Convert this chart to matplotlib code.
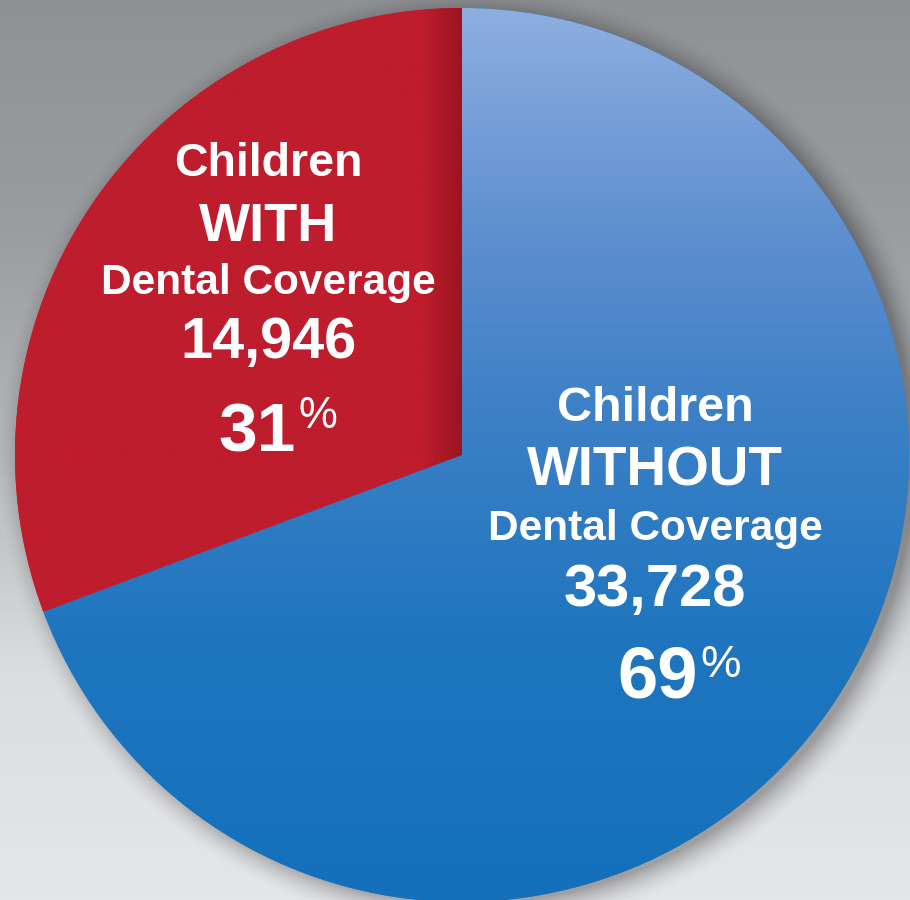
import numpy as np
import matplotlib.pyplot as plt
from matplotlib.colors import LinearSegmentedColormap

# Dental coverage among children
groups = ['WITH', 'WITHOUT']
counts = [14946, 33728]
base_colors = ['#be1d2d', '#2378c0']

total = sum(counts)
percents = [round(100 * c / total) for c in counts]

cx, cy, r = 462, 445, 447

fig = plt.figure(figsize=(9.1, 9.0), dpi=100)
ax = fig.add_axes([0, 0, 1, 1])

# grey backdrop, darker at the top
bg = LinearSegmentedColormap.from_list('bg', ['#e5e6e8', '#dcdde0', '#b4b6b9', '#9a9c9f', '#8f9195'])
ax.imshow(np.linspace(0, 1, 256).reshape(-1, 1), cmap=bg, extent=[0, 910, 0, 900],
          origin='lower', aspect='auto', zorder=0)

# soft drop shadow, pushed a little to the right and down
gx, gy = np.meshgrid(np.arange(910) + 0.5, np.arange(900) + 0.5)
d = np.hypot(gx - (cx + 9), gy - (cy - 5)) - (r - 4)
fall = np.clip(1 - d / 32, 0, 1) ** 1.8
shadow = np.zeros((900, 910, 4))
shadow[..., 3] = 0.30 * fall
ax.imshow(shadow, extent=[0, 910, 0, 900], origin='lower', aspect='auto', zorder=1)

wedges, _ = ax.pie(counts, startangle=90, counterclock=True, center=(cx, cy), radius=r,
                   colors=base_colors, wedgeprops=dict(linewidth=0))
for w in wedges:
    w.set_zorder(2)

# blue slice: vertical gradient, light at the top
blue = LinearSegmentedColormap.from_list(
    'blue', [(0.0, '#1470bb'), (0.3, '#1f76bf'), (0.55, '#3d80c6'), (0.75, '#5f8fcf'), (1.0, '#8eaee0')])
img = ax.imshow(np.linspace(0, 1, 256).reshape(-1, 1), cmap=blue,
                extent=[cx - r, cx + r, cy - r, cy + r], origin='lower', aspect='auto', zorder=3)
img.set_clip_path(wedges[1])

# red slice: darker band along the straight vertical edge
xs = np.linspace(cx - r, cx, 400)
shade = np.interp(xs, [cx - r, cx - 40, cx], [0.0, 0.0, 1.0])
red = LinearSegmentedColormap.from_list('red', ['#be1d2d', '#9c1420'])
img2 = ax.imshow(shade.reshape(1, -1), cmap=red, vmin=0, vmax=1,
                 extent=[cx - r, cx, cy - r, cy + r], origin='lower', aspect='auto', zorder=3)
img2.set_clip_path(wedges[0])

ax.set_xlim(0, 910)
ax.set_ylim(0, 900)
ax.set_aspect('auto')
ax.axis('off')

font = dict(family='Liberation Sans', weight='bold', color='white', zorder=5)

# label blocks (x centre, baselines in pixels from the top)
blocks = [
    dict(x=268, lines=[(176, 33.5), (241, 39), (294, 30.5), (358, 41.5)], pct=(296, 451, 50, 428)),
    dict(x=655, lines=[(421, 35), (486, 39.5), (540, 30.5), (606, 43)], pct=(698, 698, 52, 677)),
]
for grp, cnt, pct, blk in zip(groups, counts, percents, blocks):
    texts = ['Children', grp, 'Dental Coverage', f'{cnt:,}']
    for txt, (yb, size) in zip(texts, blk['lines']):
        ax.text(blk['x'], 900 - yb, txt, ha='center', va='baseline', fontsize=size, **font)
    px, pyb, psize, sup_b = blk['pct']
    ax.text(px, 900 - pyb, f'{pct}', ha='right', va='baseline', fontsize=psize, **font)
    ax.text(px + 2, 900 - sup_b, '%', ha='left', va='baseline', fontsize=psize * 0.63,
            family='Liberation Sans', color='white', zorder=5)

fig.savefig('out.png', dpi=100)
